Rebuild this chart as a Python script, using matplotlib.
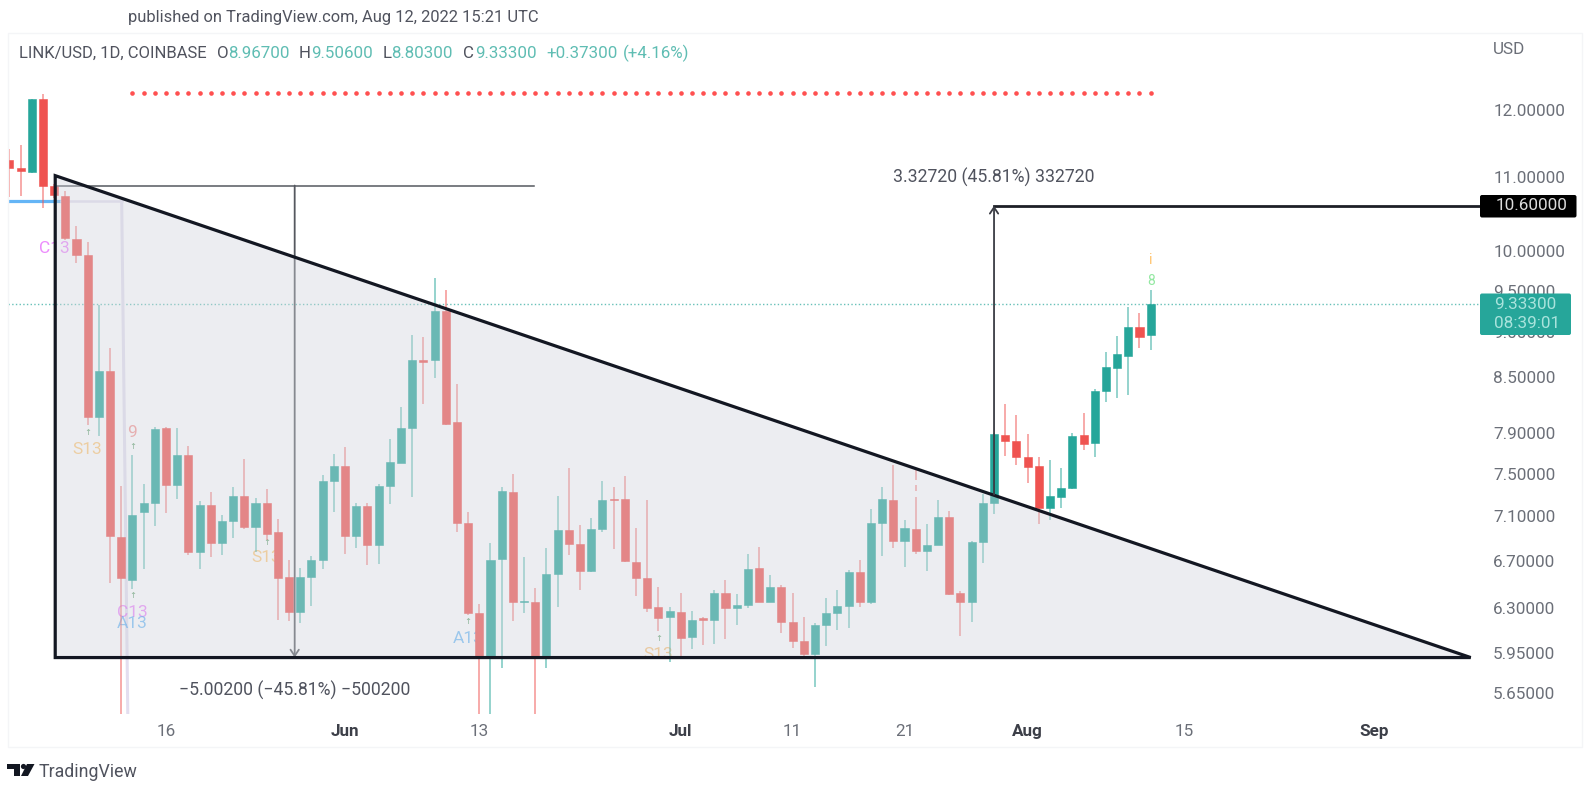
import pandas as pd
import matplotlib
matplotlib.use("Agg")
import matplotlib.pyplot as plt
import matplotlib.dates as mdates
from matplotlib.patches import Polygon, Rectangle, FancyBboxPatch, Circle
from matplotlib.transforms import Affine2D

plt.rcParams["font.family"] = ["Roboto", "DejaVu Sans"]

# Daily candles LINK/USD, starting 2 May 2022
start_date = "2022-05-02"
opens = [11.25, 11.13, 11.07, 12.16, 10.87, 10.74, 10.15, 9.95, 8.07, 8.56, 6.91, 6.54, 7.14, 7.22,
         7.95, 7.39, 7.68, 6.78, 7.20, 6.86, 7.05, 7.29, 7.00, 7.22, 6.95, 6.56, 6.27, 6.56, 6.71,
         7.43, 7.57, 6.92, 7.19, 6.84, 7.38, 7.60, 7.95, 8.69, 8.68, 9.25, 8.02, 7.04, 6.26, 5.92,
         6.72, 7.32, 6.35, 6.35, 5.92, 6.59, 6.97, 6.85, 6.61, 6.98, 7.26, 7.26, 6.69, 6.55, 6.31,
         6.235, 6.27, 6.075, 6.22, 6.21, 6.43, 6.305, 6.33, 6.64, 6.355, 6.48, 6.19, 6.04, 5.94,
         6.17, 6.26, 6.32, 6.60, 6.35, 7.04, 7.25, 6.87, 6.985, 6.79, 6.84, 7.09, 6.43, 6.35, 6.865,
         7.22, 7.885, 7.82, 7.66, 7.575, 7.17, 7.28, 7.36, 7.88, 7.80, 8.345, 8.595, 8.735, 9.06, 8.967]
highs = [11.41, 11.47, 12.17, 12.25, 10.90, 10.80, 10.33, 10.11, 9.32, 8.82, 7.38, 7.68, 7.40, 7.96,
         7.96, 7.95, 7.77, 7.24, 7.32, 7.11, 7.37, 7.64, 7.27, 7.35, 7.07, 6.71, 6.64, 6.74, 7.49,
         7.69, 7.76, 7.22, 7.22, 7.40, 7.84, 8.17, 8.97, 8.95, 9.65, 9.51, 8.42, 7.14, 6.34, 6.86,
         7.37, 7.50, 6.73, 6.47, 6.81, 7.29, 7.55, 7.02, 7.08, 7.43, 7.37, 7.48, 6.99, 7.25, 6.48,
         6.31, 6.43, 6.28, 6.23, 6.45, 6.54, 6.42, 6.76, 6.82, 6.58, 6.49, 6.43, 6.23, 6.18,
         6.39, 6.45, 6.62, 6.71, 7.16, 7.37, 7.585, 7.065, 7.53, 7.03, 7.25, 7.15, 6.44, 6.875, 7.30,
         7.90, 8.21, 8.09, 7.89, 7.66, 7.63, 7.55, 7.905, 8.11, 8.36, 8.78, 8.96, 9.30, 9.23, 9.506]
lows = [10.72, 10.74, 11.06, 10.57, 10.70, 10.14, 9.84, 7.98, 7.87, 6.51, 5.40, 6.46, 6.63, 7.01,
        7.13, 7.26, 6.75, 6.63, 6.73, 6.75, 6.90, 6.98, 6.78, 6.88, 6.21, 6.20, 6.18, 6.32, 6.63,
        7.14, 6.76, 6.81, 6.66, 6.67, 7.21, 7.60, 7.28, 8.20, 8.48, 7.98, 6.95, 6.25, 5.40, 5.40,
        5.83, 6.20, 6.26, 5.40, 5.83, 6.31, 6.75, 6.45, 6.60, 6.95, 6.80, 6.69, 6.40, 6.27, 6.12,
        5.88, 5.92, 5.98, 6.01, 6.02, 6.06, 6.17, 6.30, 6.35, 6.35, 6.10, 5.99, 5.92, 5.69,
        6.00, 6.13, 6.14, 6.31, 6.34, 6.74, 6.81, 6.65, 6.76, 6.61, 6.84, 6.41, 6.08, 6.19, 6.68,
        7.12, 7.67, 7.585, 7.41, 7.03, 7.06, 7.17, 7.355, 7.73, 7.66, 8.23, 8.27, 8.30, 8.825, 8.803]
closes = [11.13, 11.085, 12.16, 10.87, 10.75, 10.17, 9.95, 8.07, 8.56, 6.92, 6.55, 7.11, 7.22, 7.94,
          7.39, 7.68, 6.78, 7.20, 6.86, 7.05, 7.29, 7.00, 7.22, 6.94, 6.555, 6.27, 6.56, 6.71, 7.43,
          7.57, 6.92, 7.19, 6.84, 7.38, 7.61, 7.95, 8.68, 8.66, 9.25, 8.00, 7.04, 6.26, 5.91, 6.71,
          7.33, 6.35, 6.36, 5.92, 6.59, 6.97, 6.85, 6.61, 6.98, 7.25, 7.25, 6.70, 6.55, 6.30, 6.22,
          6.28, 6.065, 6.21, 6.21, 6.43, 6.305, 6.33, 6.63, 6.355, 6.48, 6.19, 6.04, 5.94, 6.17,
          6.26, 6.32, 6.60, 6.35, 7.04, 7.26, 6.87, 6.99, 6.79, 6.84, 7.09, 6.42, 6.35, 6.865, 7.22,
          7.89, 7.82, 7.66, 7.565, 7.17, 7.29, 7.36, 7.875, 7.79, 8.34, 8.61, 8.755, 9.06, 8.95, 9.333]

# Axis ticks
price_ticks = [12, 11, 10, 9.5, 9, 8.5, 7.9, 7.5, 7.1, 6.7, 6.3, 5.95, 5.65]
price_labels = ["12.00000", "11.00000", "10.00000", "9.50000", "9.00000", "8.50000", "7.90000",
                "7.50000", "7.10000", "6.70000", "6.30000", "5.95000", "5.65000"]
date_ticks = ["2022-05-16", "2022-06-01", "2022-06-13", "2022-07-01", "2022-07-11", "2022-07-21",
              "2022-08-01", "2022-08-15", "2022-09-01"]
date_labels = ["16", "Jun", "13", "Jul", "11", "21", "Aug", "15", "Sep"]

# Drawings on the chart (days counted from 16 May)
triangle_days = [-9.9, -9.9, 116.6]
triangle_prices = [11.02, 5.913, 5.913]
current_price = 9.333
target_price = 10.60
resistance_level = 12.265
resistance_days = list(range(-3, 89))
support_level = 10.66
drop_day, drop_top, drop_bottom, drop_end_day = 11.5, 10.88, 5.913, 32.9
rise_day, rise_bottom = 74, 7.30

# Labels of the TD sequential indicator
td_days = [-10, -7, -3, -3, -3, 9, 27, 44, 88, 88]
td_prices = [10.03, 7.74, 7.905, 6.27, 6.175, 6.725, 6.06, 5.94, 9.62, 9.886]
td_texts = ["C13", "S13", "9", "C13", "A13", "S13", "A13", "S13", "8", "i"]
td_colors = ["#e040fb", "#ffa726", "#ef5350", "#e040fb", "#2196f3", "#ffa726", "#2196f3", "#f59a23",
             "#4cd964", "#ff9800"]
td_arrow_days = [-7, -3, -3, 9, 27, 44]
td_arrow_prices = [7.905, 7.76, 6.40, 6.86, 6.19, 6.055]
# breaks in the upper wick of 21-22 Jul where a small mark sits on it
wick_gap_day = 67
wick_gap_lows = [7.39, 7.28]
wick_gap_highs = [7.44, 7.33]

GREEN = "#26a69a"
RED = "#ef5350"
DARK = "#131722"
GREY = "#6b6f78"

fig = plt.figure(figsize=(15.9, 7.89), dpi=100, facecolor="white")
px = Affine2D().scale(1 / 1590, -1 / 789).translate(0, 1) + fig.transFigure
ax = fig.add_axes([8 / 1590, 1 - 713.6 / 789, 1472 / 1590, 680.6 / 789])

dates = pd.date_range(start_date, periods=len(opens))
x = mdates.date2num(dates)
may16 = mdates.date2num(pd.Timestamp("2022-05-16"))
colors = [GREEN if c >= o else RED for o, c in zip(opens, closes)]
body_low = [min(o, c) for o, c in zip(opens, closes)]
body_size = [abs(o - c) for o, c in zip(opens, closes)]

ax.set_yscale("log")

# Candles
ax.vlines(x, lows, highs, colors=colors, lw=1.25, alpha=0.55, zorder=2)
ax.bar(x, body_size, bottom=body_low, width=0.72, color=colors, edgecolor=colors, lw=0.4, zorder=3)
ax.vlines([may16 + wick_gap_day] * 2, wick_gap_lows, wick_gap_highs, colors="#ffffff", lw=1.6, zorder=2.5)

# Indicator lines and labels under the candles
ax.axhline(current_price, color=GREEN, ls=":", lw=1, alpha=0.7, zorder=1)
ax.scatter([may16 + d for d in resistance_days], [resistance_level] * len(resistance_days),
           s=11, color="#ff5050", lw=0, zorder=2)
ax.plot([may16 - 14.2, may16 - 9.4], [support_level, support_level], color="#64b5f6", lw=2.3, zorder=1)
ax.plot([may16 - 9.4, may16 - 3.96], [support_level, support_level], color="#e3deef", lw=1.8, zorder=1)
ax.plot([may16 - 3.96, may16 - 3.4], [support_level, 5.4], color="#e3deef", lw=2.2, zorder=1)
for d, p, t, c in zip(td_days, td_prices, td_texts, td_colors):
    size = 10 if t in ("8", "i") else 12.5
    ax.text(may16 + d, p, t, color=c, alpha=0.6, fontsize=size, ha="center", va="center", zorder=1)
for d, p in zip(td_arrow_days, td_arrow_prices):
    ax.text(may16 + d, p, "↑", color="#5f9f6a", fontsize=6, ha="center", va="center", zorder=1)

# Measure tool going down
ax.plot([may16 - 9.9, may16 + drop_end_day], [drop_top, drop_top], color="#55585f", lw=1.1, zorder=3)
ax.annotate("", xy=(may16 + drop_day, drop_bottom), xytext=(may16 + drop_day, drop_top),
            arrowprops=dict(arrowstyle="->,head_length=0.45,head_width=0.3", color="#55585f", lw=1.3,
                            shrinkA=0, shrinkB=0), zorder=3)
ax.text(may16 + drop_day, 5.67, "−5.00200 (−45.81%) −500200", color="#50535e", fontsize=12.7,
        ha="center", va="center", zorder=6)

# Falling triangle
tri_points = list(zip([may16 + d for d in triangle_days], triangle_prices))
ax.add_patch(Polygon(tri_points, closed=True, facecolor="#d1d4dc", edgecolor="none", alpha=0.4, zorder=4))
ax.add_patch(Polygon(tri_points, closed=True, facecolor="none", edgecolor="#131722", lw=2.3,
                     joinstyle="miter", zorder=5))

# Measure tool going up
ax.plot([may16 + rise_day, may16 + 118], [target_price, target_price], color="#1d1f26", lw=2, zorder=6)
ax.annotate("", xy=(may16 + rise_day, target_price), xytext=(may16 + rise_day, rise_bottom),
            arrowprops=dict(arrowstyle="->,head_length=0.45,head_width=0.3", color="#3a3c44", lw=1.3,
                            shrinkA=0, shrinkB=0), zorder=6)
ax.text(may16 + rise_day, 10.99, "3.32720 (45.81%) 332720", color="#50535e", fontsize=12.7,
        ha="center", va="center", zorder=6)

# Axes
ax.set_xlim(may16 - 14.12, may16 + 117.43)
ax.set_ylim(5.50, 13.25)
ax.yaxis.tick_right()
ax.set_yticks(price_ticks, price_labels)
ax.minorticks_off()
ax.tick_params(axis="y", length=0, pad=9.5, labelsize=12.3, labelcolor=GREY)
for lab in ax.get_yticklabels():
    lab.set_ha("left")
ax.set_xticks([mdates.date2num(pd.Timestamp(d)) for d in date_ticks], date_labels)
ax.tick_params(axis="x", length=0, pad=7.5, labelsize=12.3, labelcolor=GREY)
for lab in ax.get_xticklabels():
    if lab.get_text() in ("Jun", "Jul", "Aug", "Sep"):
        lab.set_fontweight("bold")
        lab.set_color("#3c3f48")
for spine in ax.spines.values():
    spine.set_visible(False)

# Outer frame
fig.add_artist(Rectangle((8, 33), 1574, 714, transform=px, fill=False, edgecolor="#f4f5f7", lw=1))

# Price boxes on the right
fig.add_artist(FancyBboxPatch((1480, 195), 96.5, 22.5, boxstyle="round,pad=0,rounding_size=2", transform=px,
                              facecolor="black", edgecolor="none", zorder=2))
fig.text(1496, 206, "10.60000", transform=px, color="#dcdcdc", fontsize=12.3, va="center")
fig.add_artist(FancyBboxPatch((1480, 293.5), 91, 41.5, boxstyle="round,pad=0,rounding_size=2", transform=px,
                              facecolor=GREEN, edgecolor="none", zorder=2))
fig.text(1494, 305, "9.33300", transform=px, color="#a9e3dc", fontsize=12.3, va="center")
fig.text(1494, 324, "08:39:01", transform=px, color="#a9e3dc", fontsize=12.3, va="center")
fig.text(1493, 50, "USD", transform=px, color=GREY, fontsize=12.3, va="center")

# Header texts
fig.text(128, 17.5, "published on TradingView.com, Aug 12, 2022 15:21 UTC", transform=px, color="#50535e",
         fontsize=11.9, va="center")
fig.text(19, 53, "LINK/USD, 1D, COINBASE", transform=px, color="#50535e", fontsize=12, va="center")
header_x = [216.5, 228, 299, 311, 383, 391, 463, 475, 546.5, 623]
header_texts = ["O", "8.96700", "H", "9.50600", "L", "8.80300", "C", "9.33300", "+0.37300", "(+4.16%)"]
header_colors = ["#50535e", "#5fbdb3", "#50535e", "#5fbdb3", "#50535e", "#5fbdb3", "#50535e", "#5fbdb3",
                 "#5fbdb3", "#5fbdb3"]
for hx, t, c in zip(header_x, header_texts, header_colors):
    fig.text(hx, 53, t, transform=px, color=c, fontsize=12.2, va="center")

# TradingView logo
fig.add_artist(Polygon([(7, 764), (20, 764), (20, 776), (14, 776), (14, 769), (7, 769)], closed=True,
                       transform=px, facecolor=DARK, edgecolor="none"))
fig.add_artist(Circle((23.5, 766.5), 2.6, transform=px, facecolor=DARK, edgecolor="none"))
fig.add_artist(Polygon([(27, 764), (34.5, 764), (28, 776), (21, 776)], closed=True, transform=px,
                       facecolor=DARK, edgecolor="none"))
fig.text(39, 772, "TradingView", transform=px, color="#50535e", fontsize=12.8, va="center")

fig.savefig("out.png", dpi=100)
